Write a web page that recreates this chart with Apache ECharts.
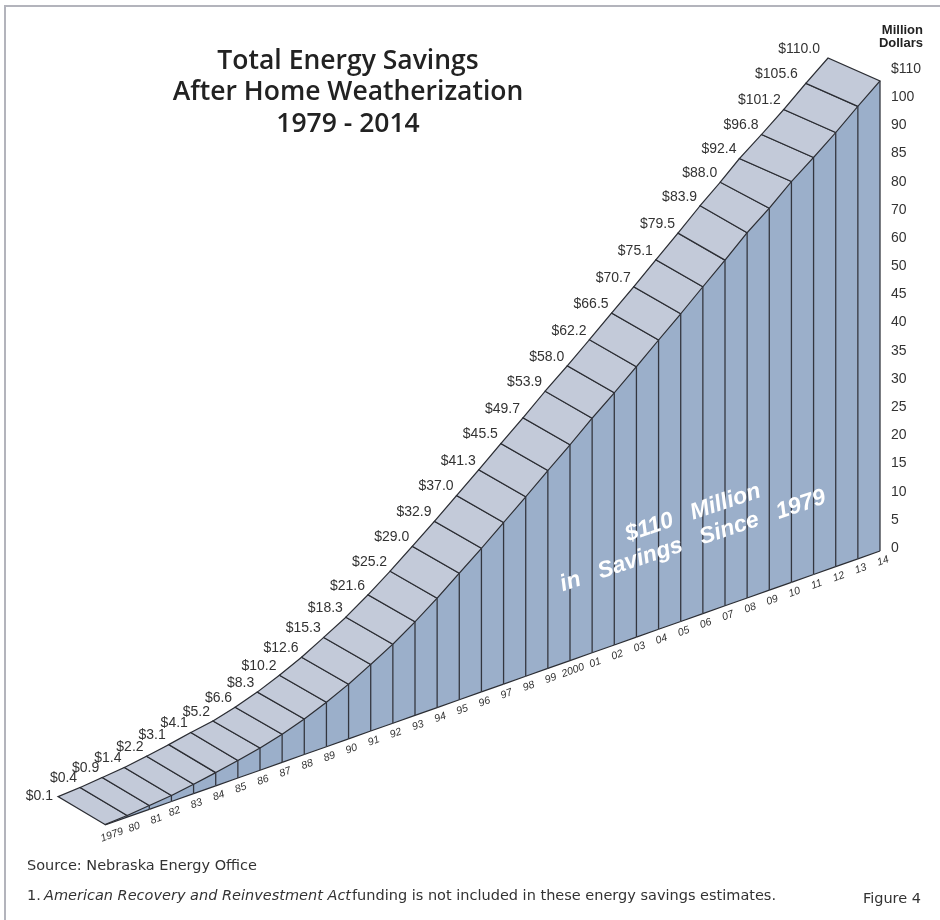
<!DOCTYPE html>
<html>
<head>
<meta charset="utf-8">
<style>
  html, body { margin: 0; padding: 0; background: #fff; }
  #chart { width: 940px; height: 920px; }
</style>
<script src="https://cdn.jsdelivr.net/npm/echarts@6/dist/echarts.min.js"></script>
</head>
<body>
<div id="chart"></div>
<script>
const years = ['1979', '80', '81', '82', '83', '84', '85', '86', '87', '88', '89', '90', '91', '92', '93', '94', '95', '96',
  '97', '98', '99', '2000', '01', '02', '03', '04', '05', '06', '07', '08', '09', '10', '11', '12', '13', '14'];
// printed labels
const savings = [0.1, 0.4, 0.9, 1.4, 2.2, 3.1, 4.1, 5.2, 6.6, 8.3, 10.2, 12.6, 15.3, 18.3, 21.6, 25.2, 29.0, 32.9,
  37.0, 41.3, 45.5, 49.7, 53.9, 58.0, 62.2, 66.5, 70.7, 75.1, 79.5, 83.9, 88.0, 92.4, 96.8, 101.2, 105.6, 110.0];
// heights as drawn in the picture, they run a little over the printed labels mid chart
const drawnLevels = [0.1, 0.4, 0.9, 1.4, 2.2, 3.1, 4.1, 5.2, 6.6, 8.3, 10.4, 12.8, 15.6, 18.5, 21.9, 25.6, 29.6, 33.6,
  37.8, 42.0, 46.3, 50.5, 54.9, 59.0, 63.3, 67.7, 72.0, 76.5, 80.9, 85.5, 89.4, 93.8, 97.6, 101.6, 105.9, 110.0];
const tickLabels = ['0', '5', '10', '15', '20', '25', '30', '35', '40', '45', '50', '60', '70', '80', '85', '90', '100', '$110'];

// the floor climbs to the right, everything is sheared by it
const floorSlope = 274 / 775;
const lineColor = '#2b2d33';
const topColor = '#c3cad9';
const sideColor = '#9bafca';

function depth(i) {
    if (i < 7) return [47, 28];
    if (i < 30) return [47, 27];
    if (i === 30) return [49, 26];
    return [52, 23];
}

function renderStep(params, api) {
    const i = api.value(0);
    const x0 = api.coord([0, 0])[0];
    const project = (idx, v) => {
        const p = api.coord([idx, v]);
        return [p[0], p[1] - (p[0] - x0) * floorSlope];
    };
    const back = (idx) => {
        const p = project(idx, drawnLevels[idx]);
        const d = depth(idx);
        return [p[0] - d[0], p[1] - d[1]];
    };
    const base = project(i, 0);
    const front = project(i, api.value(1));
    const rear = back(i);
    const children = [];

    if (i < years.length - 1) {
        const nextBase = project(i + 1, 0);
        const nextFront = project(i + 1, drawnLevels[i + 1]);
        const nextRear = back(i + 1);
        children.push({
            type: 'polygon',
            shape: { points: [base, front, nextFront, nextBase] },
            style: { fill: sideColor, stroke: null }
        });
        children.push({
            type: 'polygon',
            shape: { points: [front, rear, nextRear, nextFront] },
            style: { fill: topColor, stroke: lineColor, lineWidth: 1.2 }
        });
        children.push({
            type: 'line',
            shape: { x1: base[0], y1: base[1], x2: nextBase[0], y2: nextBase[1] },
            style: { stroke: lineColor, lineWidth: 1.2 }
        });
    }
    children.push({
        type: 'line',
        shape: { x1: base[0], y1: base[1], x2: front[0], y2: front[1] },
        style: { stroke: '#33363f', lineWidth: 1.3 }
    });
    children.push({
        type: 'text',
        x: rear[0] - (i >= 34 ? 8 : i === 0 ? 5 : 3),
        y: rear[1] - (i === 0 ? 0 : 9),
        style: {
            text: '$' + savings[i].toFixed(1),
            fill: '#333',
            font: '14px "Liberation Sans"',
            textAlign: 'right',
            textVerticalAlign: 'middle'
        }
    });
    children.push({
        type: 'text',
        x: base[0] + (i < 3 ? 7 : 3),
        y: base[1] + 10,
        rotation: 20 * Math.PI / 180,
        style: {
            text: years[i],
            fill: '#333',
            font: 'italic 10.5px "Liberation Sans"',
            textAlign: 'center',
            textVerticalAlign: 'middle'
        }
    });
    return { type: 'group', children };
}

const chart = echarts.init(document.getElementById('chart'), null, { renderer: 'canvas' });
const tilt = 18.5 * Math.PI / 180;
const gap = '\u00a0\u00a0\u00a0';
const slanted = {
    fill: '#fff',
    font: 'italic bold 23px "Liberation Sans"',
    textAlign: 'center',
    textVerticalAlign: 'middle'
};
const titleFont = '600 26.5px "Open Sans"';
const noteFont = '14.5px "DejaVu Sans"';

chart.setOption({
    animation: false,
    backgroundColor: '#fff',
    grid: [
        { left: 105, width: 775, top: 355, height: 470 },
        { left: 880, width: 10, top: 69, height: 479 }
    ],
    xAxis: [
        { type: 'category', gridIndex: 0, data: years, boundaryGap: false, show: false },
        { type: 'value', gridIndex: 1, show: false }
    ],
    yAxis: [
        { type: 'value', gridIndex: 0, min: 0, max: 110, show: false },
        {
            type: 'category',
            gridIndex: 1,
            position: 'right',
            data: tickLabels,
            boundaryGap: false,
            axisLine: { show: false },
            axisTick: { show: false },
            axisLabel: {
                interval: 0,
                margin: 1,
                color: '#333',
                fontSize: 14,
                fontFamily: 'Liberation Sans'
            }
        }
    ],
    series: [{
        type: 'custom',
        xAxisIndex: 0,
        yAxisIndex: 0,
        clip: false,
        encode: { x: 0, y: 1 },
        data: years.map((y, i) => [i, drawnLevels[i]]),
        renderItem: renderStep
    }],
    graphic: [
        { type: 'rect', shape: { x: 5, y: 6, width: 960, height: 940 }, style: { fill: 'none', stroke: '#b3b4bc', lineWidth: 2 }, z: 0 },
        { type: 'text', x: 348, y: 61, style: { text: 'Total Energy Savings', font: titleFont, fill: '#222', textAlign: 'center', textVerticalAlign: 'middle' } },
        { type: 'text', x: 348, y: 92, style: { text: 'After Home Weatherization', font: titleFont, fill: '#222', textAlign: 'center', textVerticalAlign: 'middle' } },
        { type: 'text', x: 348, y: 124, style: { text: '1979 - 2014', font: titleFont, fill: '#222', textAlign: 'center', textVerticalAlign: 'middle' } },
        { type: 'text', x: 923, y: 30, style: { text: 'Million', font: 'bold 13px "Liberation Sans"', fill: '#222', textAlign: 'right', textVerticalAlign: 'middle' } },
        { type: 'text', x: 923, y: 43, style: { text: 'Dollars', font: 'bold 13px "Liberation Sans"', fill: '#222', textAlign: 'right', textVerticalAlign: 'middle' } },
        { type: 'text', x: 693, y: 513, rotation: tilt, z: 50, style: Object.assign({ text: '$110' + gap + 'Million' }, slanted) },
        { type: 'text', x: 693, y: 541, rotation: tilt, z: 50, style: Object.assign({ text: 'in' + gap + 'Savings' + gap + 'Since' + gap + '1979' }, slanted) },
        { type: 'text', x: 27, y: 866, style: { text: 'Source: Nebraska Energy Office', font: noteFont, fill: '#333', textVerticalAlign: 'middle' } },
        { type: 'text', x: 27, y: 896, style: { text: '1. ', font: noteFont, fill: '#333', textVerticalAlign: 'middle' } },
        { type: 'text', x: 44, y: 896, style: { text: 'American Recovery and Reinvestment Act', font: 'italic ' + noteFont, fill: '#333', textVerticalAlign: 'middle' } },
        { type: 'text', x: 352, y: 896, style: { text: 'funding is not included in these energy savings estimates.', font: noteFont, fill: '#333', textVerticalAlign: 'middle' } },
        { type: 'text', x: 921, y: 899, style: { text: 'Figure 4', font: noteFont, fill: '#333', textAlign: 'right', textVerticalAlign: 'middle' } }
    ]
});
</script>
</body>
</html>
